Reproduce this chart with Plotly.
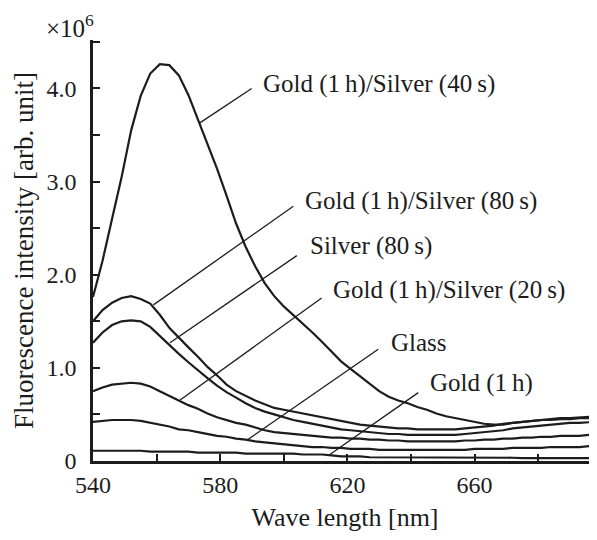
import plotly.graph_objects as go

# wavelength grid (nm)
wavelength = [540, 543, 546, 549, 552, 555, 558, 561, 564, 567, 570, 573, 576, 579, 582, 585,
              588, 591, 594, 597, 600, 603, 606, 609, 612, 615, 618, 621, 624, 627, 630, 633,
              636, 639, 642, 645, 648, 651, 654, 657, 660, 663, 666, 669, 672, 675, 678, 681,
              684, 687, 690, 693, 696, 698]

# intensities in units of 1e6
gold_silver_40s = [1.76, 2.15, 2.60, 3.05, 3.55, 3.92, 4.16, 4.26, 4.25, 4.14, 3.93, 3.67, 3.42, 3.14, 2.85, 2.55,
                   2.30, 2.09, 1.91, 1.77, 1.66, 1.57, 1.48, 1.38, 1.28, 1.18, 1.07, 0.99, 0.91, 0.83, 0.75, 0.69,
                   0.65, 0.62, 0.58, 0.55, 0.51, 0.48, 0.46, 0.44, 0.42, 0.40, 0.39, 0.39, 0.41, 0.42, 0.43, 0.44,
                   0.45, 0.46, 0.46, 0.47, 0.48, 0.48]
gold_silver_80s = [1.50, 1.62, 1.70, 1.75, 1.77, 1.74, 1.69, 1.57, 1.43, 1.32, 1.22, 1.12, 1.01, 0.92, 0.82, 0.75,
                   0.70, 0.65, 0.61, 0.57, 0.55, 0.53, 0.51, 0.49, 0.47, 0.45, 0.43, 0.41, 0.39, 0.38, 0.37, 0.36,
                   0.35, 0.35, 0.34, 0.34, 0.34, 0.34, 0.34, 0.35, 0.36, 0.37, 0.38, 0.40, 0.41, 0.42, 0.43, 0.44,
                   0.44, 0.45, 0.45, 0.46, 0.46, 0.46]
silver_80s = [1.27, 1.38, 1.46, 1.50, 1.51, 1.50, 1.44, 1.34, 1.25, 1.15, 1.06, 0.97, 0.89, 0.81, 0.74, 0.68,
              0.62, 0.57, 0.53, 0.50, 0.47, 0.44, 0.42, 0.40, 0.38, 0.36, 0.34, 0.33, 0.32, 0.31, 0.30, 0.29,
              0.29, 0.28, 0.28, 0.28, 0.28, 0.28, 0.28, 0.29, 0.30, 0.31, 0.32, 0.33, 0.35, 0.36, 0.37, 0.38,
              0.39, 0.40, 0.41, 0.41, 0.42, 0.42]
gold_silver_20s = [0.75, 0.79, 0.82, 0.83, 0.84, 0.83, 0.80, 0.75, 0.70, 0.65, 0.60, 0.56, 0.51, 0.47, 0.44, 0.41,
                   0.39, 0.36, 0.33, 0.31, 0.30, 0.29, 0.28, 0.27, 0.26, 0.25, 0.25, 0.24, 0.24, 0.23, 0.23, 0.22,
                   0.22, 0.21, 0.21, 0.21, 0.21, 0.21, 0.21, 0.22, 0.22, 0.23, 0.23, 0.24, 0.24, 0.25, 0.25, 0.26,
                   0.26, 0.27, 0.27, 0.27, 0.28, 0.28]
glass = [0.42, 0.43, 0.44, 0.44, 0.44, 0.43, 0.41, 0.39, 0.37, 0.34, 0.33, 0.31, 0.29, 0.27, 0.26, 0.24,
         0.23, 0.21, 0.20, 0.19, 0.18, 0.17, 0.16, 0.15, 0.15, 0.14, 0.14, 0.13, 0.13, 0.13, 0.12, 0.12,
         0.12, 0.12, 0.12, 0.12, 0.12, 0.12, 0.12, 0.12, 0.13, 0.13, 0.13, 0.13, 0.14, 0.14, 0.14, 0.14,
         0.15, 0.15, 0.15, 0.15, 0.16, 0.16]
gold_1h = [0.11, 0.11, 0.11, 0.11, 0.11, 0.11, 0.10, 0.10, 0.10, 0.10, 0.10, 0.09, 0.09, 0.09, 0.09, 0.09,
           0.08, 0.08, 0.08, 0.08, 0.08, 0.08, 0.07, 0.07, 0.07, 0.06, 0.05, 0.05, 0.05, 0.04, 0.04, 0.04,
           0.04, 0.04, 0.04, 0.04, 0.04, 0.04, 0.04, 0.04, 0.04, 0.035, 0.035, 0.035, 0.035, 0.03, 0.03, 0.03,
           0.03, 0.03, 0.03, 0.03, 0.03, 0.03]

series_names = ["Gold (1\u2009h)/Silver (40\u2009s)", "Gold (1\u2009h)/Silver (80\u2009s)", "Silver (80\u2009s)",
                "Gold (1\u2009h)/Silver (20\u2009s)", "Glass", "Gold (1\u2009h)"]
series_values = [gold_silver_40s, gold_silver_80s, silver_80s, gold_silver_20s, glass, gold_1h]

# label anchor (left edge x, center y) and leader line (start -> end on curve), data units
label_x = [592.8, 606.1, 607.7, 614.7, 633.2, 645.4]
label_y = [4.05, 2.79, 2.31, 1.84, 1.27, 0.84]
leader_x0 = [589.9, 603.0, 604.1, 611.9, 629.7, 642.3]
leader_y0 = [4.00, 2.735, 2.205, 1.75, 1.20, 0.734]
leader_x1 = [573.6, 559.0, 564.2, 567.4, 588.7, 614.5]
leader_y1 = [3.63, 1.676, 1.27, 0.654, 0.23, 0.069]

x_tickvals = [540, 580, 620, 660]
y_tickvals = [0, 1, 2, 3, 4]
y_ticktext = ["0", "1.0", "2.0", "3.0", "4.0"]

FONT = "Liberation Serif, Times New Roman, serif"
INK = "#1c1c1c"

fig = go.Figure()
for name, vals in zip(series_names, series_values):
    fig.add_trace(go.Scatter(x=wavelength, y=vals, mode="lines", name=name,
                             line=dict(color=INK, width=2.2), showlegend=False))

for i, name in enumerate(series_names):
    fig.add_shape(type="line", xref="x", yref="y",
                  x0=leader_x0[i], y0=leader_y0[i], x1=leader_x1[i], y1=leader_y1[i],
                  line=dict(color=INK, width=1.3))
    fig.add_annotation(x=label_x[i], y=label_y[i], xref="x", yref="y", text=name,
                       showarrow=False, xanchor="left", yanchor="middle",
                       font=dict(family=FONT, size=25, color=INK))

fig.add_annotation(x=-0.097, y=1.0, xref="paper", yref="paper", text="\u00d710<sup>6</sup>",
                   showarrow=False, xanchor="left", yanchor="bottom", yshift=-4,
                   font=dict(family=FONT, size=25, color=INK))

# page body has an 8 px margin, so the figure is sized/offset to land the plot area
# at x 93..597, y 40..453 of the 597x540 window
fig.update_layout(
    width=589, height=532,
    margin=dict(l=85, r=0, t=32, b=79, autoexpand=False),
    plot_bgcolor="white", paper_bgcolor="white",
    font=dict(family=FONT, size=24, color=INK),
    xaxis=dict(range=[540, 698.5], showline=True, linecolor=INK, linewidth=2.5,
               ticks="inside", ticklen=7, tickwidth=2, tickcolor=INK,
               tickmode="array", tickvals=x_tickvals,
               minor=dict(ticks="inside", ticklen=7, tickwidth=2, tickcolor=INK, tick0=540, dtick=20),
               showgrid=False, zeroline=False, automargin=False,
               tickfont=dict(family=FONT, size=24, color=INK),
               title=dict(text="Wave length [nm]", font=dict(family=FONT, size=26, color=INK), standoff=12)),
    yaxis=dict(range=[0, 4.52], showline=True, linecolor=INK, linewidth=2.5,
               ticks="inside", ticklen=7, tickwidth=2, tickcolor=INK,
               tickmode="array", tickvals=y_tickvals, ticktext=y_ticktext,
               minor=dict(ticks="inside", ticklen=7, tickwidth=2, tickcolor=INK, tick0=0, dtick=0.5),
               showgrid=False, zeroline=False, ticklabelstandoff=9, automargin=False,
               tickfont=dict(family=FONT, size=24, color=INK),
               title=dict(text="Fluorescence intensity [arb. unit]",
                          font=dict(family=FONT, size=27, color=INK), standoff=6)),
)

fig.write_html("out.html")
